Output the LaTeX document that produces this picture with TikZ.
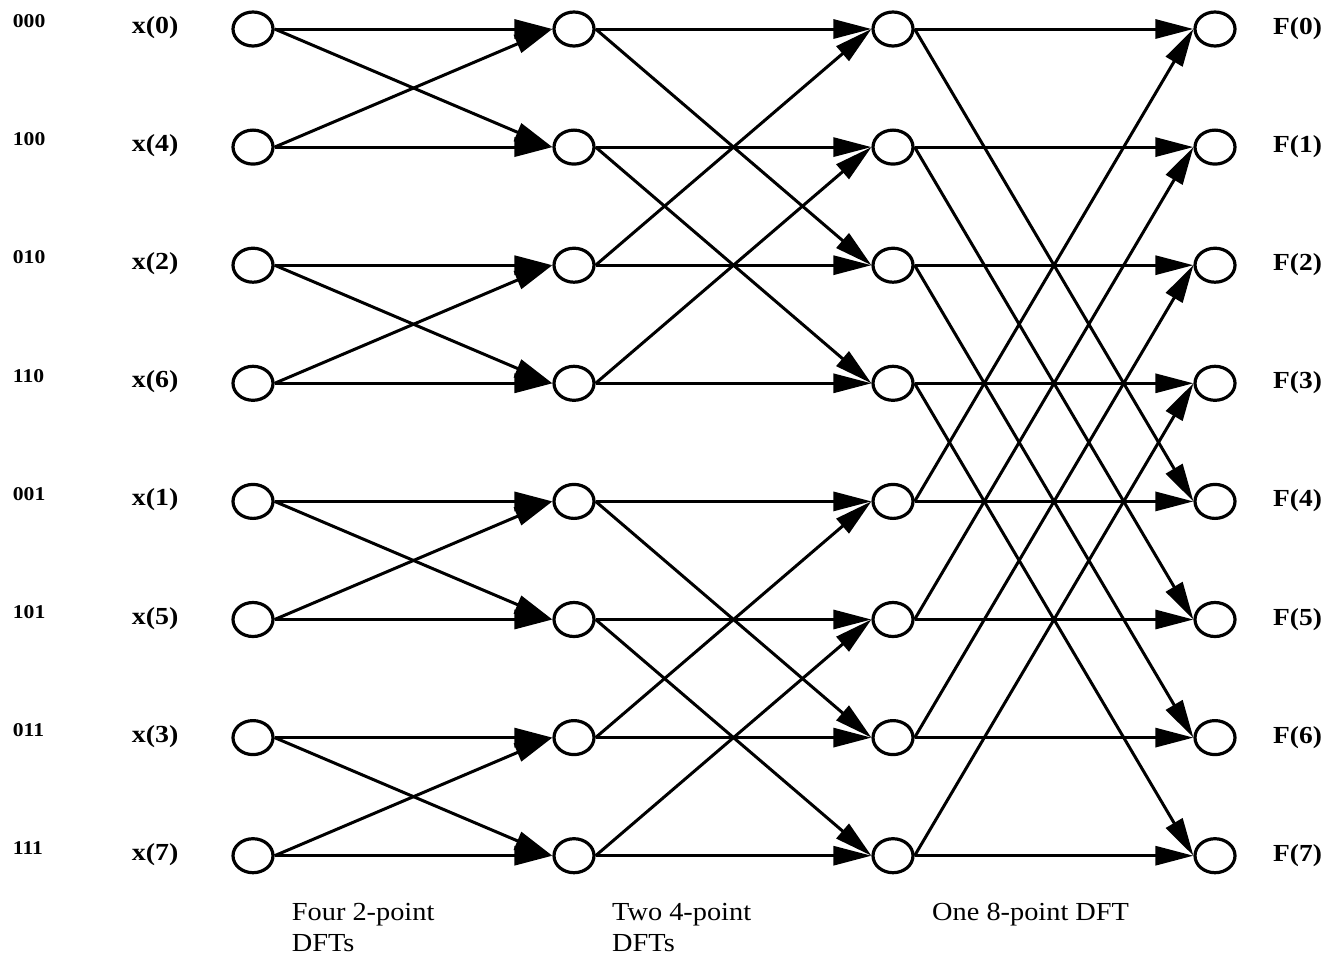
\documentclass[tikz,border=0pt]{standalone}
\usepackage{graphicx}
\usepackage{fontspec}
\setmainfont{Liberation Serif}
\usetikzlibrary{shapes.geometric,arrows.meta}
\begin{document}
\begin{tikzpicture}[x=1pt,y=-1pt,
  bnode/.style={draw,ellipse,line width=3.2pt,minimum width=40pt,minimum height=34pt,inner sep=0pt},
  conn/.style={line width=3pt,-{Triangle[length=38pt,width=19pt]}},
  binlabel/.style={anchor=base west,inner sep=0pt,font=\bfseries\fontsize{19.5}{23}\selectfont},
  inlabel/.style={anchor=base west,inner sep=0pt,font=\bfseries\fontsize{24.5}{29}\selectfont},
  outlabel/.style={anchor=base west,inner sep=0pt,font=\bfseries\fontsize{24.5}{29}\selectfont},
  dftlabel/.style={anchor=base west,inner sep=0pt,font=\fontsize{26}{31}\selectfont}
]
\useasboundingbox (0,0) rectangle (1330,956);

% nodes
\foreach \c/\x in {0/253,1/574,2/893,3/1215}{
  \foreach \r in {0,...,7}{
    \node[bnode] (n\c\r) at (\x,{29+118.1*\r}) {};
  }
}

% labels
\foreach \r/\b/\i in {0/000/0,1/100/4,2/010/2,3/110/6,4/001/1,5/101/5,6/011/3,7/111/7}{
  \node[binlabel] (b\r) at (12.7,{29+118.1*\r-1.3}) {\scalebox{1.11}[1]{\b}};
  \node[inlabel] (x\r) at (131.7,{29+118.1*\r+4.5}) {\scalebox{1.14}[1]{x(\i)}};
  \node[outlabel] (f\r) at (1273,{29+118.1*\r+5.5}) {\scalebox{1.12}[1]{F(\r)}};
}

% straight connections
\foreach \r in {0,...,7}{
  \draw[conn] (n0\r.east) -- (n1\r.west);
  \draw[conn] (n1\r.east) -- (n2\r.west);
  \draw[conn] (n2\r.east) -- (n3\r.west);
}
% stage 1 cross
\foreach \a/\b in {0/1,1/0,2/3,3/2,4/5,5/4,6/7,7/6}{
  \draw[conn] (n0\a.east) -- (n1\b.west);
}
% stage 2 cross
\foreach \a/\b in {0/2,1/3,2/0,3/1,4/6,5/7,6/4,7/5}{
  \draw[conn] (n1\a.east) -- (n2\b.west);
}
% stage 3 cross
\foreach \a/\b in {0/4,1/5,2/6,3/7,4/0,5/1,6/2,7/3}{
  \draw[conn] (n2\a.east) -- (n3\b.west);
}

% stage captions
\node[dftlabel] (d1) at (291.7,920) {\scalebox{1.09}[1]{\begin{tabular}[t]{@{}l@{}}Four 2-point\\DFTs\end{tabular}}};
\node[dftlabel] (d2) at (612,920) {\scalebox{1.09}[1]{\begin{tabular}[t]{@{}l@{}}Two 4-point\\DFTs\end{tabular}}};
\node[dftlabel] (d3) at (932,920) {\scalebox{1.09}[1]{One 8-point DFT}};
\end{tikzpicture}
\end{document}
